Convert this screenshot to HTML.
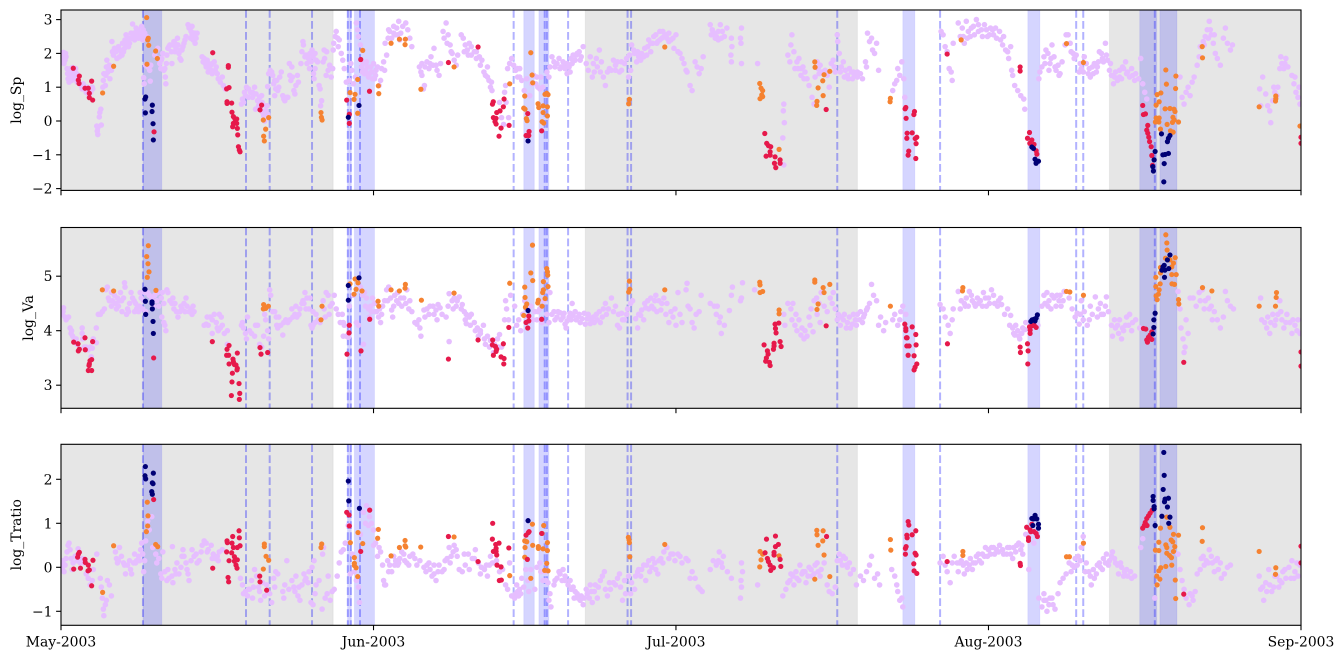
<!DOCTYPE html>
<html lang="en"><head><meta charset="utf-8"><title>Solar wind time series</title>
<style>html,body{margin:0;padding:0;background:#fff}svg{display:block}text{font-family:"DejaVu Serif","Liberation Serif",serif;font-size:13.9px;fill:#000}</style></head>
<body>
<svg id="chart" width="1344" height="659" viewBox="0 0 1344 659" xmlns="http://www.w3.org/2000/svg"></svg>
<script>
const monthTicks=[[0,"May-2003"],[31,"Jun-2003"],[61,"Jul-2003"],[92,"Aug-2003"],[123,"Sep-2003"]];
const grayRegions=[[0,27],[52,79],[104,123]];
const blueRegions=[[8.13,10],[28.42,28.8],[29.1,31.1],[45.9,46.95],[47.4,48.4],[83.5,84.7],[95.9,97.1],[107,108.7],[109,110.7]];
const eventDays=[8.13,18.35,20.7,24.9,28.45,28.75,29.66,44.9,47.98,48.2,50.3,56.2,56.55,77,87.2,100.7,101.4,108.5];

const spTicks=[-2,-1,0,1,2,3];
const vaTicks=[3,4,5];
const trTicks=[-1,0,1,2];

const spLavender=[[0,1.9],[0.1,1.75],[0.1,2],[0.2,1.85],[0.25,2.03],[0.3,1.7],[0.35,1.9],[0.4,1.8],[0.45,2],[0.5,1.9],[0.6,1.55],[0.65,1.4],[0.7,1.25],[0.75,1.5],[0.8,1.15],[0.9,1.35],[0.95,1.55],[1,1.45],[1.05,1.2],[1.15,1.58],[1.2,1.3],[1.3,1.45],[1.4,1.25],[1.45,1.55],[1.55,1.4],[1.6,1.15],[1.7,1.35],[1.9,1.1],[2,1.05],[2.1,0.95],[2.2,1.1],[2.35,1],[2.5,0.85],[2.6,1],[2.75,0.95],[2.8,0.75],[2.95,0.85],[3.1,1],[3.15,0.95],[3.55,-0.15],[3.6,-0.3],[3.65,-0.4],[3.65,-0.2],[3.8,0.12],[3.85,0.25],[3.95,0.35],[4,-0.12],[4.15,1],[4.2,1.2],[4.25,1.4],[4.4,1.05],[4.45,1.35],[4.5,1.6],[4.55,1.8],[4.65,1.45],[4.7,1.55],[4.8,1.65],[4.85,1.25],[5,1.5],[5.05,2.35],[5.1,2.05],[5.2,1.95],[5.3,2.15],[5.45,2.05],[5.55,1.85],[5.7,2.2],[5.8,1.9],[5.9,2.1],[6,2],[6.1,2.3],[6.2,2.05],[6.3,2.15],[6.35,2.4],[6.45,2.55],[6.55,2.25],[6.6,2.35],[6.7,2.2],[6.8,2.3],[6.95,2.6],[7,2.45],[7.1,2.87],[7.2,2.6],[7.35,2.55],[7.5,2.65],[7.6,2.7],[7.7,2.45],[7.85,2.6],[7.9,2.5],[8,2.8],[8.05,2.55],[8.15,2.7],[8.25,2.45],[8.3,2.6],[8.4,2.45],[8.5,2.5],[8.2,1.28],[8.25,1.1],[8.4,1.65],[8.6,1.6],[8.8,1.5],[8.85,1.18],[8.9,1.65],[9.3,1.95],[9.5,2.1],[9.6,2.15],[9.7,1.85],[9.8,1.7],[9.9,1.55],[9.95,1.8],[10,1.85],[10.1,2],[10.2,1.5],[10.3,1.55],[10.35,1.3],[10.4,1.1],[10.45,1.7],[10.5,1.95],[10.6,2.15],[10.7,2.2],[10.8,2.25],[10.95,2.05],[11,1.7],[11.1,2.25],[11.2,2.35],[11.3,2.05],[11.4,2.15],[11.55,2.45],[11.6,2.25],[11.7,2],[11.8,1.85],[11.9,1.8],[12,2.1],[12.1,2.2],[12.3,2.4],[12.4,2.5],[12.6,2.85],[12.7,2.75],[12.85,2.45],[12.9,2.65],[13,2.55],[13.1,2.4],[13.2,2.6],[13.3,2.3],[13.4,2.45],[13.5,2.6],[14,1.9],[14.1,1.75],[14.2,1.85],[14.3,1.7],[14.4,1.6],[14.5,1.8],[14.6,1.45],[14.7,1.55],[14.85,1.65],[14.9,1.5],[15,1.4],[15.2,1.75],[15.4,1.6],[15.5,1.4],[15.6,1.25],[15.8,1.15],[16,1.3],[16.1,1.05],[16.3,0.95],[17.9,0.5],[18,0.65],[18.1,0.55],[18.2,0.85],[18.3,0.75],[18.4,1],[18.6,0.7],[18.8,0.85],[19,0.7],[19.2,1],[19.35,0.8],[19.3,0.35],[19.5,0.6],[19.6,0.45],[19.7,0.7],[19.8,0.35],[19.95,0.55],[20,0.25],[20.1,0.15],[20.2,0],[20.3,0.3],[20.35,0.45],[20.45,0.45],[20.5,0.2],[20.5,1.02],[20.6,1.4],[20.75,1.5],[20.9,1.45],[21,1.35],[21.1,1.1],[21.2,1.2],[21.3,0.95],[21.4,1.2],[21.5,0.9],[21.6,1],[21.7,1.3],[21.85,1.45],[22,0.75],[22.1,0.65],[22.2,0.6],[22.4,0.7],[22.5,0.7],[22.65,1.7],[22.7,1.35],[22.8,1.2],[22.95,1.3],[23.1,0.9],[23.2,0.8],[23.3,1.05],[23.45,1.35],[23.55,1.15],[23.8,1.7],[23.9,2.05],[24,2.35],[24.05,2.25],[24.2,1.9],[24.4,1.7],[24.55,1.85],[24.65,1.55],[24.8,1.75],[24.9,2.1],[25,1.9],[25.05,1.4],[25.1,1.25],[25.2,1.55],[25.3,1.8],[25.45,1.75],[25.6,1.05],[25.7,0.95],[25.75,0.45],[25.85,0.6],[26,1.75],[26.15,1.85],[26.3,1.35],[26.35,2.05],[26.5,1.5],[26.65,1.65],[26.8,1.3],[26.95,1.55],[27,2.1],[27.05,2.3],[27.2,2.5],[27.3,2.65],[27.45,2.45],[27.6,2.4],[27.8,2],[27.95,1.8],[28.1,1.55],[28.3,1.15],[28.6,1.2],[28.75,1.7],[28.85,1.5],[29,1.1],[29.2,1.3],[29.3,2.9],[29.4,2.7],[29.5,2.5],[29.7,2.25],[29.8,1.6],[30,1.7],[30.2,1.5],[30.4,1.6],[30.6,1.4],[30.8,1.45],[31,1.7],[31.1,1.25],[31.25,1.5],[31.4,1.6],[31.55,1.05],[31.7,1.2],[31.8,1.55],[32,1.75],[32.1,1.5],[32.15,2.3],[32.3,1.95],[32.45,2.45],[32.6,2.65],[32.8,2.45],[33,2.8],[33.15,2.55],[33.3,2.75],[33.5,2.95],[33.7,2.6],[33.9,2.8],[34.2,2.9],[34.4,2.7],[34.6,2.45],[34.8,2.2],[35.55,1.6],[35.7,1.45],[35.8,1.35],[35.95,0.95],[36.05,1.05],[36.3,1.75],[36.5,1.55],[36.7,1.9],[36.9,1.65],[37,2.15],[37.3,1.5],[37.5,1.35],[37.65,1.7],[37.9,2.65],[38,2.45],[38.2,2.9],[38.4,2.55],[38.6,2.25],[38.8,2],[39,1.8],[39.2,1.65],[39.35,1.95],[39.7,2.55],[39.9,2.45],[40.1,2.25],[40.3,2.1],[40.5,2.3],[40.7,1.95],[41,2.05],[41.2,1.85],[41.5,1.9],[41.75,1.8],[41.95,1.45],[42.1,1.35],[42.3,1.6],[42.45,1.2],[42.6,1],[42.75,0.9],[43.5,0.55],[43.7,0.1],[43.9,-0.1],[44,0.85],[44.15,0.55],[44.4,0.1],[44.1,1.05],[44.3,1.55],[44.5,1.7],[44.7,1.85],[44.9,1.65],[45.1,1.5],[45.3,1.55],[45.5,1.3],[45.7,1.2],[45.95,0.9],[46.2,1.25],[46.5,0.75],[46.9,1.35],[47.1,1.1],[47.3,1],[47.6,1.3],[47.8,1],[48.2,1.45],[48.4,1.3],[48.5,1.6],[48.7,1.9],[48.9,1.75],[49.2,1.7],[49.4,1.85],[49.6,1.6],[49.8,1.75],[50,1.55],[50.2,1.4],[50.4,1.6],[50.6,1.85],[50.8,1.95],[51,1.8],[51.2,2],[51.4,2.05],[51.6,1.9],[51.8,2.2],[52.1,1.7],[52.3,1.5],[52.5,1.9],[52.7,1.3],[52.9,1.45],[53.2,1.6],[53.4,2.1],[53.6,1.75],[53.8,1.3],[54,1.05],[54.2,1.45],[54.4,1.55],[54.8,1.8],[55,1.65],[55.2,1.75],[55.4,1.45],[55.6,1.5],[55.9,1.7],[56.1,1.85],[56.3,1.3],[56.5,1.5],[56.6,2.25],[56.9,2],[57.1,1.75],[57.3,1.9],[57.6,2],[57.9,2.15],[58.1,1.95],[58.3,2.4],[58.5,2.05],[58.7,2.3],[59,2.55],[59.2,2.35],[59.4,2.65],[59.6,2.45],[59.8,2.5],[60.1,2.45],[60.3,2.6],[60.5,2.4],[60.8,2.15],[61,2.55],[61.2,2.05],[61.4,2],[61.6,1.85],[61.8,1.7],[62,1.5],[62.1,1.45],[62.4,1.05],[62.6,0.9],[62.9,1.75],[63.1,1.6],[63.3,1.4],[63.5,1.55],[63.7,1.9],[64.4,2.85],[64.6,2.7],[64.8,2.6],[65,2.5],[65.2,2.4],[65.4,2.85],[65.6,2.65],[65.8,2.5],[66.05,2.75],[66.5,2.45],[66.55,2.2],[66.45,1.95],[66.5,1.75],[67.5,2.75],[67.4,2.45],[67.45,2.3],[67.5,1.7],[69.1,1.7],[71.7,0.5],[71.65,0.3],[71.75,-0.05],[71.6,-0.5],[71.7,-1.3],[72.1,1.95],[72.3,1.75],[72.4,2.25],[72.5,2.55],[72.7,2.05],[73,1.75],[73.2,1.85],[73.4,1.55],[73.6,1.6],[73.8,1.45],[74,1.25],[74.2,1.05],[74.5,0.7],[74.7,0.5],[74.8,1.3],[75.1,1.55],[75.3,1.65],[75.5,1.45],[75.8,1.5],[76,1.35],[76.2,1],[76.4,1.7],[76.6,1.8],[76.8,1.45],[77,2.55],[77.05,2.35],[77.2,2],[77.4,1.6],[77.6,1.75],[77.8,1.5],[78,1.35],[78.2,1.55],[78.5,1.25],[78.7,1.35],[79,1.3],[79.3,1.4],[79.8,1.75],[79.9,1.6],[80,2.6],[80.2,2.35],[80.4,2.45],[80.5,2.1],[80.7,2],[80.9,2.3],[81.1,1.5],[82.5,0.9],[82.7,1.1],[82.9,1.2],[83,1.55],[83.2,1.35],[83.4,1.75],[83.6,1.25],[83.7,0.7],[87.3,2.65],[87.5,2.55],[87.7,2.2],[87.9,2.05],[88.1,1.55],[88.3,1.45],[88.4,1.2],[88.5,2.3],[89,2.9],[89.2,2.5],[89.4,2.75],[89.6,2.3],[89.8,2.95],[90,2.65],[90.2,2.5],[90.5,2.8],[90.8,3],[91,2.65],[91.3,2.7],[91.6,2.85],[91.9,2.5],[92.2,2.75],[92.5,2.55],[92.8,2.45],[93.1,2.65],[93.4,2.25],[93.7,2.1],[94,1.85],[94.2,2.2],[94.3,1.5],[94.4,1.35],[94.6,1.05],[94.9,0.9],[95.2,0.75],[95.5,0.65],[95.6,0.35],[97,1.25],[97.1,1.45],[97.3,1.6],[97.5,1.9],[97.7,2.1],[97.9,2],[98.1,1.7],[98.3,2.25],[98.5,1.9],[98.7,1.5],[98.9,1.65],[99.1,1.4],[99.3,1.75],[99.6,2.25],[99.7,2.55],[99.9,2.55],[100.1,2.3],[100.4,2],[100.7,1.95],[101,1.45],[101.2,1.55],[101.5,1.9],[101.7,1.7],[101.9,1.4],[102.1,1.3],[102.3,1.6],[102.5,1.7],[102.7,1.45],[102.9,1.75],[103,2.05],[103.2,2],[103.4,1.75],[103.6,2.3],[103.8,1.8],[104,1.5],[104.2,1.35],[104.4,1.1],[104.6,1.45],[104.8,1.2],[105,1.3],[105.2,1.25],[105.4,1.55],[105.6,1.75],[105.8,1.45],[106,1.3],[106.3,1.35],[106.6,1.4],[106.9,1.25],[107.1,1.85],[107.3,1.1],[107.5,0.85],[107.7,0.65],[111,1.3],[111.2,0.7],[111.4,0.5],[111.6,0.85],[111.8,1],[112,0.75],[112.2,1.15],[112.4,1.3],[112.7,1.65],[112.9,1.9],[113,2.2],[113.3,2.35],[113.5,2.5],[113.7,2.7],[113.9,2.95],[114.1,2.55],[114.3,2.3],[114.5,2],[114.7,1.85],[115,1.65],[115.3,2.45],[115.5,2.75],[115.7,2.3],[116,2.1],[116.2,2.25],[118.9,0.95],[119,0.45],[119.2,1.3],[119.5,0.8],[119.7,0.45],[119.9,0.3],[120,-0.05],[120.2,0.6],[120.4,0.85],[120.7,1],[120.9,1.55],[121.1,1.7],[121.3,1.55],[121.5,1.85],[121.7,1.6],[122.1,1.35],[122.3,1.1],[122.5,0.85],[122.7,0.7],[122.9,0.5]];
const spLavenderDense=[[5.6,2.1],[6.05,1.95],[6.4,2.3],[6.7,2.45],[7.3,2.4],[7.45,2.75],[7.75,2.6],[8.1,2.4],[11.3,2.3],[11.85,2.1],[12.2,2.3],[13,2.8],[13.3,2.6],[14.6,1.7],[15,1.7],[15.3,1.5],[18.6,0.95],[19,0.85],[19.9,0.75],[21.2,0.75],[22.9,1.6],[24.3,1.95],[24.7,2],[25.2,2],[26.1,2.1],[27.5,2.2],[29.9,1.45],[30.1,1.4],[30.3,1.75],[30.5,1.3],[30.7,1.6],[30.9,1.25],[31.2,1.35],[32.5,2.7],[33,2.6],[33.4,2.55],[33.6,2.4],[35.8,1.7],[36.1,1.6],[36.6,1.7],[37.2,1.65],[38.3,2.3],[38.7,2.05],[40,2.05],[40.4,1.95],[40.7,2.2],[41.2,2.05],[41.6,1.65],[42.3,1.3],[42.7,1.15],[45.3,1.3],[45.5,1.55],[46.7,1.1],[47.2,1.3],[47.5,0.95],[49,1.6],[49.5,1.55],[49.9,1.6],[50.2,1.7],[50.5,1.45],[50.7,1.7],[51.1,1.95],[51.5,1.8],[52.8,1.7],[53.1,1.85],[53.5,1.45],[54.6,1.5],[55,1.5],[55.6,1.75],[56.4,1.95],[56.8,2.1],[57.2,2.05],[57.5,1.8],[57.8,1.9],[58.2,2.2],[58.5,2.3],[58.8,2.5],[59.1,2.3],[59.4,2.4],[59.7,2.65],[60,2.55],[60.3,2.35],[60.7,2.45],[64.5,2.55],[64.9,2.45],[65.2,2.65],[65.5,2.45],[72.8,1.55],[73.1,1.55],[73.4,1.35],[73.7,1.25],[75,1.75],[75.2,1.4],[76.7,1.6],[77.3,1.45],[77.7,1.3],[78.1,1.25],[78.4,1.45],[78.6,1.45],[79,1.45],[79.5,1.25],[89.5,2.5],[89.9,2.45],[90.3,2.75],[90.6,2.55],[91,2.85],[91.4,2.5],[91.8,2.7],[92.1,2.55],[92.4,2.7],[92.7,2.75],[93.2,2.4],[93.5,2.5],[93.9,2.05],[97.6,1.7],[98,1.5],[98.2,1.85],[98.6,1.6],[99,1.35],[100.2,2.05],[100.5,1.85],[101.1,1.7],[101.4,1.45],[102,1.55],[102.4,1.4],[102.8,1.6],[103.3,1.85],[103.7,1.95],[104.1,1.7],[104.5,1.3],[105,1.5],[105.3,1.6],[105.7,1.4],[106.2,1.55],[106.5,1.2],[113.4,2.25],[113.8,2.45],[114,2.7],[114.4,2.55],[120.3,1],[120.6,0.75],[121,1.9],[121.4,1.7],[122.4,1.3],[122.8,1]];
const spOrange=[[8.5,3.06],[8.66,2.45],[8.6,2.4],[8.7,2.24],[8.53,1.68],[9.39,2.07],[9.56,1.85],[4.13,0.83],[5.22,1.62],[20.07,0.03],[20.6,0.1],[20.3,-0.24],[20.1,-0.45],[20.17,-0.59],[25.79,0.25],[25.83,0.11],[25.9,0.03],[28.67,0.84],[29.17,0.79],[29.07,0.64],[29.43,1.23],[29.93,2.09],[29.43,0.23],[31.48,1.04],[31.52,0.81],[32.74,2.3],[33.57,2.42],[34.16,2.42],[34.13,2.26],[35.7,0.94],[38.99,1.6],[46.6,2.02],[46.73,1.36],[46.79,1.13],[44.51,1.1],[46,0.74],[45.9,0.38],[46.03,0.35],[46.16,0.07],[46.23,0.01],[47.32,0.51],[47.39,0.4],[47.82,0.45],[48.25,0.42],[47.82,0.25],[48.25,0.15],[47.72,-0.02],[47.88,-0.06],[48.01,0.79],[48.18,0.82],[48.31,0.78],[56.38,0.64],[56.31,0.51],[59.89,2.19],[69.31,1.11],[69.44,0.97],[69.6,0.9],[69.51,0.77],[69.6,0.72],[69.34,0.66],[71.23,-0.84],[74.77,1.75],[74.8,1.59],[76.26,1.47],[75.69,1.37],[75.56,1.19],[75.1,0.98],[75.6,0.75],[74.99,0.58],[74.96,0.46],[82.27,0.67],[82.24,0.57],[89.29,2.4],[99.74,2.29],[101.42,1.73],[109.59,1.51],[110.59,1.33],[109.65,1.09],[110.56,0.96],[109.1,0.83],[108.73,0.78],[108.93,0.57],[108.63,0.47],[109.52,0.36],[110,0.37],[110.4,0.35],[110.5,0.28],[108.63,0.09],[108.93,0.09],[108.56,-0.03],[108.9,-0.03],[110.3,0.11],[110.42,0.03],[110.25,-0.04],[110.85,-0.03],[109.72,-0.1],[109.06,-0.24],[110.05,-0.29],[110.32,-0.33],[113.2,2.2],[113.23,1.87],[118.85,0.42],[120.5,0.74],[120.5,0.66],[120.47,0.59],[122.9,-0.15]];
const spRed=[[1.22,1.56],[1.82,1.33],[1.72,1.21],[1.79,1.11],[2.38,0.97],[2.71,0.97],[2.81,0.82],[2.81,0.69],[3.04,1.18],[3.14,0.62],[9.23,-0.32],[15.05,2.02],[16.6,1.64],[16.6,1.59],[16.43,0.95],[16.67,0.99],[16.47,0.57],[16.47,0.52],[16.93,0.53],[16.96,0.26],[17.1,0.13],[17.26,0.06],[17.43,0.06],[17.1,-0.07],[17.43,-0.07],[17.03,-0.17],[17.49,-0.22],[17.53,-0.41],[17.6,-0.76],[17.69,-0.86],[17.76,-0.91],[19.74,0.33],[19.9,0.47],[28.34,0.62],[28.6,0.2],[28.6,-0.07],[29.73,1.82],[30.6,0.88],[38.43,1.73],[41.37,2.19],[42.88,0.57],[42.8,0.5],[43.88,0.42],[43.95,0.65],[43.55,0.3],[43.22,0.25],[42.89,0.1],[43.15,0.08],[43.05,-0.02],[43.16,-0.09],[43.65,-0.21],[44.45,-0.13],[43.45,-0.45],[46.3,0.22],[46.43,-0.31],[46.13,-0.43],[46.4,-0.43],[47.68,-0.29],[69.81,-0.37],[70,-0.66],[70.17,-0.73],[69.94,-1.04],[70.34,-0.91],[70.4,-0.76],[70.83,-1.06],[70.77,-1.25],[70.9,-1.38],[71.33,-1.15],[71.33,-1.25],[70.34,-1.01],[75.9,0.34],[83.8,0.4],[83.73,0.36],[84.66,0.28],[84.6,0.19],[83.83,0.08],[83.93,-0.36],[84.43,-0.35],[83.9,-0.51],[84.73,-0.52],[84.89,-0.48],[84.82,-0.67],[84.09,-0.89],[84.03,-1.01],[84.79,-1.11],[87.9,1.98],[95.14,1.6],[95.14,1.48],[96.07,-0.34],[95.87,-0.51],[96.3,-0.56],[96.1,-0.66],[96.52,-0.69],[96.73,-0.88],[96.8,-0.98],[107.37,0.19],[107.57,0.21],[107.3,0.46],[107.8,-0.13],[107.7,-0.27],[107.8,-0.36],[107.9,-0.48],[107.98,-0.61],[108.14,-0.76],[108.2,-1.02],[108.27,-1.31],[123,-0.48],[123,-0.66]];
const spNavy=[[8.4,0.71],[8.33,0.65],[8.37,0.24],[9.06,0.47],[9.03,0.28],[9.13,-0.08],[9.16,-0.56],[28.5,0.11],[29.56,0.46],[46.33,-0.59],[96.3,-0.77],[96.46,-0.81],[96.62,-1.13],[96.72,-1.25],[96.96,-1.19],[109.16,-0.38],[110,-0.43],[109.85,-0.51],[109.75,-0.61],[108.53,-0.9],[108.43,-1.15],[108.3,-1.35],[108.36,-1.48],[109.3,-1],[109.52,-0.99],[109.85,-0.96],[109.43,-1.26],[109.39,-1.8]];

const vaLavender=[[0,4.4],[0.1,4.3],[0.2,4.35],[0.25,4.42],[0.4,4.25],[0.5,4.2],[0.6,4.23],[0.75,4.25],[0.9,4.05],[1,3.95],[1.05,4],[1.15,3.9],[1.3,3.85],[1.5,3.85],[1.6,3.75],[2.1,4.05],[2.1,3.95],[2.15,3.85],[2.3,3.7],[2.5,3.7],[2.7,3.65],[2.9,3.7],[3,3.52],[3.1,3.68],[3.2,3.85],[3.5,4.05],[3.5,3.78],[3.7,4.3],[3.9,4.3],[4.1,4.35],[4.3,4.4],[4.45,4.75],[4.6,4.8],[4.7,4.6],[4.8,4.55],[5,4.7],[5,4.45],[5.1,4.55],[5.3,4.65],[5.4,4.5],[5.6,4.6],[5.7,4.45],[5.8,4.55],[6,4.55],[6.05,4.35],[6.2,4.6],[6.3,4.88],[6.35,4.8],[6.5,4.3],[6.6,4.4],[6.8,4.5],[6.95,4.7],[7.1,4.6],[7.25,4.55],[7.4,4.5],[7.5,4.4],[7.6,4.45],[7.7,4.35],[7.85,4.7],[7.95,4.6],[8.1,4.4],[8.3,4.7],[8.4,4.35],[8.6,4.7],[8.75,4.65],[9,4.6],[9.3,4.65],[9.5,4.55],[9.6,4.7],[9.7,4.45],[9.95,4.6],[10,4.25],[10.2,4.15],[10.3,4.1],[10.4,4],[10.05,4.7],[10.5,4.75],[10.6,4.7],[10.8,4.55],[11,4.5],[11.2,4.4],[11.3,4.5],[11.45,4.35],[11.6,4.25],[11.8,4.35],[12,4.4],[12.2,4.5],[12.4,4.6],[12.5,4.45],[12.7,4.35],[12.9,4.4],[13,4.3],[13.2,4.35],[14.2,4.1],[14.4,4.12],[14.6,4.1],[14.8,4.25],[15,4.2],[15,3.95],[15.2,4.3],[15.5,4.05],[15.6,4],[15.7,4.3],[15.9,4.25],[16,4.1],[16.2,3.95],[16.5,4],[16.5,3.75],[17.9,4.1],[18,4.15],[18.1,4.05],[18.3,3.95],[18.4,3.85],[18.5,4.25],[18.7,4],[18.9,3.95],[19.2,3.9],[19.3,4.1],[19.5,4.1],[19.7,3.75],[19.9,3.7],[20.1,3.9],[20.2,4.3],[20.3,4.2],[20.5,4],[20.6,3.85],[20.7,4.75],[20.8,4.65],[21,4.35],[21.2,4.35],[21.35,4.25],[21.4,4.1],[21.5,4.05],[21.8,4.1],[22,3.92],[22.3,4.2],[22.5,4.15],[22.7,4.2],[23,4.25],[23.2,4.3],[23.4,4.25],[23.6,4.3],[23.7,4.4],[23.9,4.5],[24,4.55],[24.1,4.5],[24.2,4.7],[24.4,4.6],[24.6,4.4],[24.7,4.6],[24.8,4.1],[24.9,4.05],[25,4.1],[25,4.35],[25.3,4.3],[25.5,4.2],[25.7,4.15],[26,4.55],[26.1,4.4],[26.3,4.7],[26.5,4.65],[26.7,4.45],[26.9,4.5],[27.1,4.65],[27.3,4.4],[27.5,4.3],[27.7,4.15],[28,4.15],[28,3.9],[28.1,4.1],[28.3,3.9],[28.5,3.88],[28.6,4.45],[29,4.65],[29.3,4.15],[29.5,4.1],[29.7,4.8],[29.9,4.65],[30,3.75],[30.1,4.7],[30.3,4.6],[30.5,4.4],[30.7,4.45],[30.9,4.6],[31.1,4.5],[31.3,4.35],[31.5,4.25],[31.7,4.15],[31.9,4.45],[32.1,4.55],[32.3,4.75],[32.5,4.8],[32.7,4.6],[32.8,4.38],[32.9,4.25],[33.1,4.65],[33.3,4.55],[33.5,4.5],[33.8,4.45],[34,4.6],[34.3,4.75],[34.5,4.4],[34.8,4.35],[35.1,4.15],[35.3,4.12],[35.5,4.2],[35.6,4.05],[35.7,3.9],[36,4.38],[36.3,4.4],[36.6,4.45],[37,4.3],[37.2,4.38],[37.4,4.48],[37.6,4.42],[37.8,4.3],[38.2,4.25],[38.5,4.68],[38.5,3.8],[38.8,4.55],[39,4.6],[39.2,4.45],[39.5,4.62],[39.8,4.48],[40,4.35],[40.2,4.3],[40.2,4.13],[40.5,4.25],[40.7,4.3],[41,4.15],[41.3,4.05],[41.6,4],[41.9,4.1],[41.6,3.95],[42,3.85],[42.3,3.9],[42.6,3.82],[43,3.75],[43.3,3.85],[43.5,3.93],[43.7,3.7],[44,4.2],[44.1,4.55],[44.2,4.4],[44.4,4.2],[44.6,4.65],[45,4.45],[45.2,4.1],[45.4,4.2],[45.6,4],[45.8,4.3],[46,4.55],[46.3,4.25],[46.6,4.45],[47,4.35],[47.2,4.2],[47.5,4.4],[47.7,4.15],[47.9,4.55],[48.2,4.3],[48.4,4.15],[48.5,4.7],[48.9,4.35],[49.2,4.25],[49.5,4.33],[49.8,4.25],[50,4.12],[50.1,4.05],[50.4,4.25],[50.6,4.2],[50.7,4.5],[51,4.35],[51.3,4.25],[51.5,4.15],[51.9,4.32],[52.2,4.22],[52.5,4.13],[52.8,4.25],[53.2,4.2],[53.4,4.35],[53.7,4.25],[54,4.5],[54.3,4.4],[54.6,4.6],[55,4.45],[55.2,4.1],[55.4,4.05],[55.6,4.32],[55.9,4.2],[56.1,4.3],[56.5,4.5],[56.7,4.55],[57,4.22],[57.2,4.05],[57.5,4.28],[57.8,4.2],[58,4.42],[58.2,4.55],[58.5,4.6],[58.8,4.4],[59,4.65],[59.3,4.55],[59.6,4.5],[60,4.3],[60.3,4.15],[60.7,4.25],[61,4.1],[61.2,4.7],[61.4,4.3],[61.6,4.15],[62,4.75],[62.1,4.87],[62.2,4.45],[62.4,4.4],[62.6,4.15],[62.8,4.05],[63,4.3],[63.3,4.35],[63.5,4.65],[64.4,4.5],[64.8,4.45],[65,4.3],[65.3,4.15],[65.5,3.95],[65.8,4.1],[66.3,4.37],[66.5,4.65],[66.6,4.8],[67.4,4.55],[67.5,4.6],[67.6,4.88],[68.8,4.75],[71.7,4.3],[71.8,4.1],[72.1,4.5],[72.4,4.4],[72.6,4.5],[72.9,4.3],[73.2,4.2],[73.5,4.05],[73.8,4],[74,3.9],[74.2,4.25],[74.4,4.4],[74.7,4.55],[74.95,4.6],[75.2,4.5],[75.4,4.7],[75.7,4.45],[76,4.35],[76.3,4.6],[76.6,4.7],[76.8,4.4],[77,4.2],[77.3,4.1],[77.6,4.2],[77.9,4.05],[78.2,4.25],[78.5,4.12],[78.8,4.2],[79,4.3],[79.3,4.35],[79.6,4.25],[79.9,4.38],[80.2,4.5],[80.4,4.85],[80.6,4.65],[80.9,4.55],[81.1,4.1],[81.3,4.25],[81.6,4],[81.8,4.15],[82.7,4.3],[83,4.1],[83.2,4.2],[83.5,4.45],[83.8,4.3],[87.2,4.48],[87.5,4.4],[87.7,4.25],[88,4.1],[88.2,3.95],[88.4,4.2],[88.5,4.4],[89,4.72],[89.3,4.55],[89.6,4.5],[89.8,4.6],[90.1,4.72],[90.4,4.55],[90.6,4.5],[90.9,4.6],[91.2,4.55],[91.5,4.7],[91.8,4.45],[92,4.6],[92.3,4.75],[92.6,4.5],[93,4.55],[93.3,4.48],[93.6,4.3],[93.9,4.4],[94.2,4.28],[94.4,4.05],[94.6,3.92],[94.9,4],[95.1,3.85],[95.3,3.95],[95.6,4.02],[95.7,4.15],[96.2,4.05],[96.9,4.1],[97.3,4.45],[97.5,4.65],[97.8,4.7],[98,4.55],[98.2,4.4],[98.5,4.6],[98.8,4.65],[99,4.55],[99.2,4.45],[99.5,4.72],[100,4.6],[100.3,4.4],[100.8,4.32],[101,4.12],[101.2,4.55],[101.5,4.35],[101.8,4.1],[102,4.2],[102.3,4.3],[102.6,4.62],[102.9,4.4],[103.1,4.5],[103.4,4.3],[103.7,4.62],[103.9,4.35],[104.2,4.1],[104.3,3.9],[104.6,4.05],[104.9,3.95],[105.2,3.85],[105.4,4],[105.7,4.25],[106,4.3],[106.3,4.15],[106.6,4.2],[107,4.05],[110.8,4.72],[111,4.4],[111.1,4.05],[111.3,3.85],[111.4,3.6],[111.5,3.7],[111.6,4.2],[111.8,3.95],[112,4.6],[112.3,4.6],[112.6,4.45],[112.9,4.7],[113.2,4.75],[113.5,4.55],[113.8,4.6],[114.1,4.45],[114.4,4.35],[114.7,4.2],[115,4.05],[115.3,4.25],[115.5,4.72],[115.7,4.55],[116,4.45],[116.3,4.4],[119,4.6],[119.1,4.2],[119.4,4.15],[119.6,4.05],[119.9,3.95],[120.2,4.3],[120.4,4.1],[120.7,4.3],[120.9,4.55],[121.1,4.2],[121.3,4.05],[121.6,4.3],[121.9,4.15],[122.1,3.95],[122.4,4.1],[122.7,4.2],[122.9,3.95]];
const vaLavenderDense=[[5.5,4.4],[5.9,4.7],[6.7,4.35],[7.3,4.35],[7.8,4.45],[8.2,4.55],[9.2,4.45],[10.2,4.5],[11.1,4.6],[11.9,4.45],[12.3,4.35],[13.1,4.45],[14.5,4.25],[15.4,4.15],[15.8,4.05],[21.6,4.25],[22.1,4.15],[22.9,4.4],[23.3,4.45],[24.3,4.4],[25.2,4.15],[26.2,4.25],[26.6,4.3],[27.9,4.3],[30.2,4.45],[30.6,4.25],[30.8,4.35],[31.2,4.35],[31.6,4.4],[31.8,4.3],[32.4,4.55],[33,4.45],[33.4,4.7],[33.7,4.6],[34.2,4.5],[34.6,4.55],[36.1,4.25],[36.5,4.3],[36.9,4.45],[37.3,4.2],[38.4,4.45],[38.9,4.4],[39.3,4.55],[39.7,4.4],[40.1,4.2],[40.6,4.1],[41.1,4],[41.4,3.9],[42.1,3.75],[42.5,3.7],[42.9,3.6],[43.4,3.7],[46.2,4.4],[46.8,4.2],[47.3,4.35],[48.7,4.3],[49,4.2],[49.3,4.35],[49.6,4.2],[49.9,4.32],[50.2,4.18],[50.5,4.32],[50.8,4.28],[51.1,4.2],[51.4,4.3],[51.7,4.22],[52,4.12],[52.3,4.3],[52.6,4.22],[52.9,4.15],[53.1,4.3],[53.5,4.15],[53.8,4.4],[54.1,4.3],[54.8,4.35],[55.3,4.3],[55.7,4.2],[56.2,4.4],[57.3,4.3],[57.6,4.38],[57.9,4.5],[58.3,4.4],[58.6,4.45],[58.9,4.55],[59.1,4.35],[59.5,4.38],[59.8,4.6],[60.1,4.5],[60.5,4.35],[60.9,4.4],[65.1,4.45],[65.4,4.25],[72.5,4.2],[72.8,4.1],[73,4],[73.4,3.92],[73.7,3.85],[74.3,4.1],[74.6,3.98],[75,4.3],[75.3,4.15],[76.5,4.5],[77.1,4.3],[77.4,4.25],[77.7,4.3],[78,4.15],[78.3,4.05],[78.6,4.3],[78.9,4.1],[79.2,4.2],[79.5,4.15],[79.7,4.3],[80,4.42],[82.5,4.2],[83.3,4.35],[89.2,4.4],[89.7,4.45],[90,4.45],[90.3,4.65],[90.7,4.45],[91,4.5],[91.4,4.45],[91.7,4.6],[92.1,4.5],[92.5,4.65],[92.9,4.45],[93.2,4.6],[94.1,4.1],[94.5,3.95],[94.7,4.1],[95,3.9],[95.4,4.05],[97.6,4.5],[97.9,4.45],[98.3,4.65],[98.7,4.45],[99.1,4.65],[99.4,4.55],[100.6,4.25],[101.1,4.3],[101.4,4.2],[102.1,4.45],[102.8,4.25],[103.2,4.3],[103.6,4.45],[104.5,4.2],[104.8,4.1],[105,4.2],[105.3,4.05],[105.6,4.1],[105.9,4.1],[106.2,4],[113,4.55],[113.4,4.4],[113.9,4.4],[114.2,4.2],[119.7,4.25],[120,4.15],[120.5,4.2],[121,4.35],[121.5,4.15],[122.2,4.2],[122.6,4]];
const vaOrange=[[8.66,5.56],[8.5,5.36],[8.63,5.23],[8.73,5.08],[8.56,4.98],[9.42,4.74],[4.1,4.75],[5.22,4.73],[20.1,4.48],[20.07,4.4],[20.3,4.41],[20.57,4.45],[25.89,4.45],[25.79,4.2],[28.67,4.86],[29.17,4.95],[29.46,4.88],[29.27,4.76],[29.07,4.67],[29.86,4.73],[31.45,4.54],[31.52,4.45],[32.74,4.75],[33.57,4.73],[34.16,4.85],[34.13,4.78],[35.75,4.56],[38.99,4.69],[44.51,4.87],[46.77,5.57],[46.6,5.06],[46.79,4.92],[46,4.8],[46.03,4.61],[46.2,4.49],[46.07,4.43],[45.9,4.28],[47.35,4.56],[47.29,4.51],[47.72,4.45],[47.85,4.9],[47.85,4.75],[47.78,4.7],[48.18,5.14],[48.25,5.08],[48.28,5.02],[48.31,4.81],[48.02,4.59],[56.38,4.91],[56.42,4.76],[56.31,4.71],[59.89,4.75],[69.31,4.89],[69.34,4.84],[69.6,4.72],[69.34,4.7],[71.23,4.38],[71.23,4.31],[74.77,4.93],[74.77,4.89],[75.6,4.79],[76.26,4.85],[75.69,4.7],[75.1,4.49],[74.99,4.39],[82.27,4.45],[89.46,4.79],[89.42,4.73],[99.74,4.72],[100.07,4.71],[101.42,4.65],[109.59,5.76],[109.69,5.61],[109.72,5.48],[109.56,5.33],[110.52,5.34],[110,5.3],[110.35,5.24],[110.18,5.17],[109.06,5.16],[109.06,5.06],[110.62,5.03],[110.18,5.03],[108.6,4.98],[109.03,4.86],[110.2,4.86],[110.45,4.85],[108.6,4.81],[108.93,4.75],[108.86,4.67],[108.63,4.64],[108.73,4.57],[110.85,4.57],[110.88,4.49],[113.23,4.79],[120.57,4.7],[120.54,4.61],[120.47,4.45],[118.85,4.45],[114.16,4.73]];
const vaRed=[[1.26,3.79],[1.69,3.76],[1.72,3.63],[1.82,3.66],[2.38,3.87],[2.41,3.65],[3.14,3.8],[3.04,3.47],[2.88,3.45],[2.81,3.39],[2.78,3.36],[2.71,3.27],[3.04,3.27],[9.19,3.5],[15.01,3.8],[16.67,3.73],[16.47,3.66],[16.43,3.55],[16.63,3.55],[17.49,3.59],[17.06,3.48],[16.67,3.39],[17.1,3.43],[17.2,3.38],[17.36,3.37],[17.49,3.31],[17.46,3.28],[17,3.22],[16.96,3.06],[17.66,3.03],[16.9,2.81],[17.73,2.85],[17.69,2.74],[19.74,3.69],[19.84,3.57],[20.5,3.6],[28.37,3.57],[28.6,4.1],[28.57,3.96],[29.76,3.63],[30.62,4.21],[38.43,3.48],[41.37,3.83],[44.42,4.06],[42.82,3.83],[42.79,3.74],[43.09,3.71],[43.22,3.66],[43.16,3.62],[43.88,3.76],[42.89,3.55],[43.65,3.52],[43.95,3.49],[43.92,3.39],[46.4,4.27],[46.4,4.18],[46.13,4.15],[46.3,4.05],[47.68,4.21],[71.2,4.14],[70.83,4.12],[70.87,4.04],[70.93,3.96],[70.73,3.77],[70.73,3.72],[70.67,3.66],[71.33,3.8],[71.43,3.71],[70.07,3.63],[70.14,3.57],[69.97,3.5],[69.9,3.44],[70.27,3.42],[70.34,3.36],[75.9,4.09],[69.74,3.74],[83.7,4.12],[83.8,4.04],[83.8,4],[84.43,4.07],[84.79,3.93],[83.86,3.87],[83.93,3.87],[84.82,3.74],[83.9,3.72],[84.13,3.72],[84.03,3.55],[84.62,3.54],[84.89,3.39],[84.72,3.33],[84.62,3.28],[87.93,3.76],[95.14,3.7],[95.87,3.76],[95.93,3.63],[95.17,3.6],[95.9,3.39],[96.07,4.07],[96.13,4.01],[96.3,4.09],[96.53,4.1],[96.73,4.06],[96.13,3.95],[107.37,4.04],[107.6,4.03],[108.2,3.98],[108.03,3.92],[107.87,3.88],[107.7,3.83],[107.77,3.79],[108.2,3.84],[111.37,3.42],[123,3.61],[123,3.35]];
const vaNavy=[[8.33,4.76],[8.37,4.54],[9.03,4.53],[9.03,4.5],[9.06,4.4],[8.4,4.3],[9.13,4.17],[9.16,3.95],[28.5,4.83],[28.5,4.56],[29.56,4.97],[46.33,4.37],[96.2,4.17],[96.33,4.2],[96.53,4.21],[96.73,4.23],[96.85,4.29],[96.62,4.18],[108.33,3.94],[108.4,4.06],[108.4,4.2],[108.53,4.32],[110,5.39],[109.75,5.3],[109.43,5.2],[109.3,5.17],[109.2,5.11],[109.5,5.11],[109.88,5.14],[109.46,4.98]];

const trLavender=[[0,0.05],[0.1,0.15],[0.15,-0.05],[0.2,0.1],[0.3,-0.1],[0.4,0.05],[0.5,0.2],[0.6,0.35],[0.7,0.5],[0.8,0.55],[0.9,0.4],[1,0.2],[1.1,-0.05],[1.2,0.1],[1.4,0.25],[1.6,0.15],[1.7,0.42],[1.9,0.1],[2.1,0.2],[2.3,0.1],[2.5,-0.15],[2.7,-0.25],[2.9,-0.4],[3.1,-0.3],[3.2,-0.05],[3.55,0.3],[3.9,-0.25],[4,-0.45],[4.1,-0.7],[4.2,-0.95],[4.25,-1.1],[4.4,-0.85],[4.5,-0.75],[4.6,-0.3],[4.8,-0.4],[5,-0.65],[5.4,0.35],[5.5,0.2],[5.6,0.1],[5.8,0.45],[6,0.25],[6.2,0.1],[6.4,-0.15],[6.6,0.05],[6.8,0.15],[7,-0.15],[7.2,0.1],[7.3,0.3],[7.5,0.15],[7.7,0.25],[7.9,0.4],[8,0.55],[8.1,0.3],[8.2,-0.1],[8.3,0.15],[8.4,0.6],[8.6,1.05],[8.75,0.85],[9,1.15],[9.1,0.45],[9.4,0.3],[9.5,0.1],[9.7,0.2],[9.9,-0.15],[10,-0.25],[10.1,0.35],[10.3,-0.1],[10.5,-0.3],[10.7,-0.25],[11,-0.2],[11.1,-0.35],[11.05,0.47],[11.3,-0.05],[11.5,0.1],[11.7,-0.15],[11.9,0],[12.1,0.4],[12.2,0.25],[12.4,0.1],[12.6,-0.15],[12.7,-0.3],[12.9,0.15],[13,0.4],[13.2,0.25],[13.4,0.3],[13.7,0.15],[14,0.5],[14.2,0.6],[14.4,0.55],[14.6,0.4],[14.9,0.5],[15.1,0.3],[15.3,0.2],[15.5,0.25],[15.7,0.35],[16,0.4],[17.8,-0.25],[18,-0.4],[18.1,-0.6],[18.3,-0.55],[18.5,-0.65],[18.7,-0.5],[18.9,-0.3],[19,-0.7],[19.2,-0.05],[19.4,-0.2],[19.6,-0.45],[19.8,-0.75],[20,-0.35],[20.2,-0.65],[20.4,-0.4],[20.7,-0.6],[20.9,-0.8],[21.1,-0.25],[21.3,-0.1],[21.5,-0.15],[22,-0.55],[22.1,-0.7],[22.2,-0.4],[22.4,0.15],[22.6,-0.5],[22.9,-0.3],[23.1,-0.45],[23.3,-0.2],[23.5,-0.65],[23.7,-0.75],[23.9,-0.4],[24.1,-0.15],[24.3,-0.25],[24.6,-0.1],[24.8,-0.8],[24.9,0],[25,-0.85],[25.1,0.15],[25.3,-0.4],[25.6,-0.3],[25.9,-0.95],[25.95,0.3],[26.05,0.45],[26.2,-0.7],[26.5,-0.2],[26.7,-0.75],[26.9,-0.55],[27.1,-0.5],[27.4,-0.2],[27.6,0.1],[27.8,0.35],[28,0.4],[28.2,0.55],[28.5,0.95],[28.7,-0.15],[28.9,0.3],[29.1,-0.1],[29.3,-0.3],[29.5,-0.45],[29.6,-0.8],[29.7,0.75],[30,1.25],[30.3,1.4],[30.5,0.95],[30.8,1],[31,0.85],[31.2,0.55],[31.4,0.25],[31.55,0.45],[31.7,0.35],[31.9,0.05],[32,-0.3],[32.1,-0.4],[32.2,-0.4],[32.4,0.15],[32.6,0.05],[32.8,-0.1],[33,0.25],[33.2,0.15],[33.4,0.05],[33.6,0.2],[33.8,0.35],[34,0.3],[34.3,0.1],[34.6,0.25],[34.9,0.3],[35.3,0.05],[35.6,0.15],[36,0],[36.3,0.05],[36.6,-0.05],[36.8,-0.2],[37,-0.15],[37.2,-0.3],[37.5,0.05],[37.8,-0.1],[38,-0.05],[38.3,0.2],[38.5,0.45],[38.7,0.25],[38.9,0.35],[39.2,0.4],[39.5,-0.05],[39.8,-0.1],[40.1,0.05],[40.4,0.3],[40.8,0.2],[41.1,0.4],[41.4,0.1],[41.7,0],[42,-0.05],[42.3,-0.2],[42.6,0.25],[42.8,0.1],[43.2,0.15],[43.5,-0.1],[43.8,-0.05],[44.1,-0.4],[44.3,-0.5],[44.5,0.1],[44.7,-0.65],[45,-0.7],[45.3,-0.55],[45.5,-0.5],[45.7,-0.25],[45.9,-0.45],[46.1,-0.05],[46.3,-0.3],[46.6,-0.05],[47,-0.5],[47.2,0],[47.5,0.1],[47.8,-0.3],[48,-0.1],[48.3,-0.35],[48.4,-0.75],[48.5,-0.6],[48.6,-0.9],[48.9,-0.4],[49.2,-0.25],[49.5,-0.15],[49.8,-0.05],[50,-0.3],[50.3,-0.4],[50.6,-0.5],[50.9,-0.7],[51.2,-0.6],[51.5,-0.75],[51.8,-0.85],[52.2,-0.6],[52.5,-0.4],[52.7,-0.8],[52.9,-0.55],[53.2,-0.7],[53.5,-0.3],[53.7,-0.2],[53.9,-0.1],[54.2,-0.65],[54.5,-0.5],[54.8,-0.35],[55.2,-0.25],[55.5,-0.45],[55.7,-0.75],[56,-0.6],[56.3,-0.2],[56.6,-0.35],[56.9,-0.5],[57.2,-0.1],[57.5,-0.2],[57.8,0.05],[58,-0.3],[58.3,0.15],[58.6,0],[58.9,0.1],[59.2,-0.15],[59.5,0.2],[59.8,0.35],[60.1,0.45],[60.5,0.3],[60.9,0.15],[61.2,0.3],[61.6,0.1],[62,0.2],[62.2,0.15],[62.4,-0.25],[62.6,-0.1],[62.9,-0.25],[63.2,-0.45],[63.4,-0.5],[63.6,-0.55],[64.4,-0.05],[64.7,0.15],[65,0.05],[65.3,0.35],[65.5,0.1],[65.7,0.25],[66.1,-0.1],[66.5,-0.25],[67.4,-0.7],[67.5,-0.45],[67.45,-0.3],[67.6,-0.1],[67.5,0.1],[69.1,-0.4],[71.6,-0.65],[71.9,-0.5],[72.1,-0.35],[72.4,-0.15],[72.7,-0.4],[73,-0.25],[73.3,0.05],[73.6,-0.1],[73.9,-0.35],[74.2,0],[74.5,-0.2],[74.8,0.05],[75.1,-0.1],[75.4,-0.05],[75.7,0.1],[76,-0.4],[76.2,-0.55],[76.5,-0.6],[76.8,-0.45],[77,0.15],[77.2,0.3],[77.5,0.05],[77.8,0.2],[78,0],[78.3,-0.15],[78.6,-0.05],[78.9,-0.4],[79.3,-0.2],[79.6,-0.3],[79.9,-0.1],[80.2,0.05],[80.4,0.25],[80.7,-0.25],[81,-0.15],[81.2,-0.4],[82.4,-0.05],[82.7,-0.2],[82.9,-0.4],[83,-0.55],[83.2,-0.75],[83.4,-0.7],[83.5,-0.9],[87.2,0.1],[87.5,0.25],[87.7,0.05],[87.9,-0.1],[88.2,-0.35],[88.4,0.1],[88.6,0.25],[89,-0.1],[89.3,0.15],[89.6,-0.15],[89.9,-0.05],[90.2,0.2],[90.5,0.1],[90.8,0.25],[91.1,0.15],[91.4,0.3],[91.7,0.45],[92,0.4],[92.3,0.45],[92.6,0.3],[93,0.35],[93.4,0.4],[93.8,0.3],[94.1,0.45],[94.4,0.2],[94.7,0.35],[95,0.55],[95.3,0.5],[95.7,0.75],[96,-0.05],[96.5,0.55],[97,-0.7],[97.3,-0.9],[97.5,-0.75],[97.8,-1],[98,-0.85],[98.3,-0.7],[98.6,-0.95],[98.9,-0.6],[99.1,-0.35],[99.4,-0.25],[99.7,-0.15],[100,0.1],[100.3,0.05],[100.6,0.2],[100.9,0.25],[101.2,0.45],[101.4,0.7],[101.7,0.1],[101.95,-0.1],[102.2,-0.4],[102.5,-0.25],[102.8,0.05],[103.1,0],[103.4,0.2],[103.7,0.3],[104,0.15],[104.3,0.35],[104.6,0.1],[104.9,-0.15],[105.2,0],[105.5,-0.1],[105.8,-0.2],[106.2,-0.25],[106.5,-0.2],[107.1,0.45],[107.3,0.65],[108.5,-0.7],[110.8,0.3],[111,-0.05],[111.2,-0.3],[111.4,-0.5],[111.6,-0.7],[111.9,-0.85],[112.2,-0.65],[112.5,-0.55],[112.7,-0.15],[113,-0.05],[113.3,0.25],[113.6,0.15],[113.9,0.4],[114.2,0.1],[114.5,0.15],[114.8,-0.05],[115.1,-0.25],[115.4,-0.15],[115.7,0],[116,0.05],[118.85,-0.2],[119,-0.5],[119.3,-0.75],[119.5,-0.35],[119.8,-0.05],[120.1,-0.55],[120.3,-0.45],[120.6,-0.2],[120.9,-0.3],[121.2,-0.1],[121.5,-0.25],[121.8,0],[122.1,0.15],[122.4,-0.1],[122.7,-0.2],[122.9,0.05]];
const trLavenderDense=[[5.7,0.15],[6.3,0.05],[6.9,-0.05],[7.4,0.1],[7.8,0.15],[10.6,-0.05],[11.4,-0.15],[12,0.25],[12.5,-0.05],[13.5,0.1],[13.9,0.35],[14.5,0.35],[15,0.2],[15.6,0.15],[18.6,-0.5],[19.1,-0.45],[19.7,-0.55],[20.5,-0.55],[21.2,-0.45],[23.2,-0.55],[23.6,-0.45],[24.2,-0.3],[24.5,-0.35],[25.2,-0.6],[26.4,-0.6],[30.2,1],[30.6,1.15],[31,0.5],[32.5,-0.1],[33.1,0.05],[33.5,0.1],[34.1,0.15],[34.5,0.05],[35.1,0.2],[36.2,-0.1],[36.5,0.1],[37,0.05],[37.4,-0.1],[38.1,0.15],[38.6,0.1],[39,0.5],[39.3,0.25],[40,0.3],[40.5,-0.05],[41,0.2],[41.6,-0.15],[42.2,0.05],[42.5,0.05],[45.1,-0.6],[45.2,-0.4],[45.4,-0.65],[45.6,-0.6],[46.4,-0.55],[47.6,-0.1],[48.1,-0.3],[49,-0.3],[49.4,-0.1],[49.7,-0.3],[50,-0.2],[50.5,-0.3],[50.8,-0.45],[51,-0.55],[51.3,-0.7],[51.6,-0.65],[51.9,-0.7],[52.1,-0.5],[52.4,-0.7],[52.6,-0.55],[53,-0.4],[53.3,-0.45],[54,-0.5],[54.4,-0.35],[55,-0.4],[55.4,-0.15],[55.9,-0.3],[56.5,-0.6],[57,-0.2],[57.3,-0.05],[57.6,-0.05],[58.1,0.05],[58.4,-0.1],[58.7,0.2],[59,-0.05],[59.3,0.15],[59.7,0.1],[60.3,0.2],[60.7,0.3],[61.4,0.25],[65.2,0.15],[65.6,0],[72.3,-0.3],[72.6,-0.2],[72.9,-0.1],[73.2,-0.3],[73.5,-0.15],[73.8,-0.1],[74.1,-0.2],[74.4,-0.05],[74.7,-0.15],[75,0.1],[75.3,-0.2],[77.3,0.15],[77.6,0.25],[77.9,0.05],[78.2,0.1],[88.9,0.1],[89.1,0.1],[89.5,0.05],[89.8,0.1],[90.1,0.05],[90.4,-0.05],[90.7,0.1],[91,0.3],[91.3,0.1],[91.6,0.25],[91.9,0.25],[92.2,0.3],[92.5,0.45],[92.8,0.4],[93.1,0.5],[93.5,0.3],[93.9,0.45],[94.2,0.3],[94.5,0.45],[94.8,0.5],[95.2,0.4],[95.4,0.3],[97.5,-0.6],[97.7,-0.75],[98.1,-0.7],[98.4,-0.85],[100.2,-0.1],[100.5,0],[100.8,0.05],[101.1,0.15],[101.6,-0.1],[102.1,-0.2],[102.4,-0.05],[102.7,-0.15],[103,0.1],[103.3,-0.05],[103.6,0.1],[103.9,0.05],[104.2,0.25],[104.5,0.2],[104.8,0.05],[105.1,0.1],[105.4,-0.2],[105.7,-0.05],[106.1,-0.1],[112,-0.6],[112.3,-0.75],[113.1,0.2],[113.4,0.05],[113.8,0.1],[114.1,0.25],[114.4,-0.1],[114.7,0.2],[115,0.1],[119.2,-0.45],[119.6,-0.55],[119.9,-0.4],[120.4,-0.2],[120.8,-0.45],[121.1,-0.35],[121.4,-0.05],[122,-0.25],[122.3,-0.25],[122.6,0.1]];
const trOrange=[[8.56,1.48],[8.63,1.17],[8.6,0.94],[8.47,0.81],[9.39,0.52],[9.59,0.47],[5.22,0.49],[4.13,-0.57],[20.17,0.53],[20.17,0.47],[20.34,0.25],[20.6,0.16],[20.07,-0.04],[25.86,0.53],[25.79,0.45],[28.7,0.56],[29.1,0.22],[29.1,0.09],[29.1,0.04],[29.27,-0.01],[29.43,-0.21],[29.46,0.79],[29.93,0.54],[31.48,0.86],[31.41,0.66],[32.74,0.26],[33.57,0.45],[34.13,0.61],[34.13,0.49],[34.2,0.46],[35.68,0.46],[38.99,0.69],[44.51,-0.19],[46.76,0.98],[46,0.6],[46.2,0.58],[46.03,0.45],[46.79,0.5],[46,0.23],[46.6,-0.25],[47.35,0.47],[47.35,0.43],[47.82,0.42],[48.25,0.38],[48.25,0.56],[47.88,0.95],[47.72,0.77],[48.18,0.09],[47.98,-0.07],[48.31,-0.08],[56.28,0.68],[56.35,0.62],[56.38,0.56],[56.42,0.24],[59.89,0.52],[69.34,0.36],[69.6,0.3],[69.44,0.17],[69.31,0.01],[71.23,0.26],[74.97,0.84],[74.99,0.74],[75.6,0.83],[75.56,0.6],[75.1,0.5],[75.69,0.28],[74.77,-0.27],[76.26,-0.21],[82.27,0.63],[82.31,0.39],[89.46,0.36],[89.46,0.27],[99.74,0.24],[100.03,0.24],[101.42,0.55],[113.23,0.9],[113.2,0.59],[118.85,0.36],[120.5,-0.01],[120.47,-0.16],[110,0.91],[109.06,0.89],[109.69,1.14],[110.35,0.75],[110.85,0.73],[108.9,0.57],[110.12,0.62],[110.28,0.58],[109.59,0.51],[109.69,0.45],[110.48,0.47],[108.56,0.39],[108.9,0.38],[110.35,0.36],[109.69,0.32],[109.95,0.27],[110.15,0.22],[110.18,0.05],[109.59,0.02],[109.09,-0.01],[108.9,-0.08],[108.7,-0.2],[109,-0.27],[108.73,-0.4],[110.53,-0.29],[110.57,-0.71]];
const trRed=[[1.26,-0.04],[1.82,0.34],[1.72,0.3],[1.65,0.23],[1.93,-0.02],[2.38,0.18],[2.41,0.11],[2.71,0.05],[2.81,-0.06],[2.68,-0.08],[3.17,0.16],[3.04,-0.42],[9.19,1.54],[15.05,-0.02],[16.47,0.6],[16.5,0.56],[17.03,0.7],[17.66,0.83],[17.69,0.67],[16.96,0.55],[17.1,0.45],[17.76,0.49],[17.49,0.45],[16.43,0.35],[16.93,0.33],[17.2,0.24],[16.67,0.15],[17.2,0.14],[17.49,0.17],[17.36,0.05],[17.46,-0.02],[16.57,-0.23],[16.63,-0.33],[19.71,-0.2],[19.74,-0.33],[20.4,-0.52],[28.34,1.25],[28.57,1.19],[28.6,0.94],[29.73,0.36],[30.62,1.3],[38.43,0.7],[41.37,0.13],[42.82,1],[42.79,0.64],[43.12,0.52],[43.45,0.55],[43.16,0.43],[42.89,0.36],[43.16,0.36],[43.22,0.28],[44.42,0.44],[43.25,0.05],[43.65,0.01],[43.48,-0.3],[43.68,-0.29],[46.43,0.81],[46.36,0.79],[46.13,0.73],[46.26,0.18],[47.68,0.77],[69.98,0.64],[70.87,0.71],[71.16,0.52],[70.87,0.47],[70.73,0.34],[70.73,0.28],[69.84,0.33],[70.07,0.2],[70.17,0.13],[70.34,0.05],[70.4,-0.07],[70.67,-0.01],[71.33,0.18],[71.4,0.02],[75.94,0.7],[84.03,1.04],[84.1,0.96],[84.79,0.83],[83.9,0.73],[83.93,0.67],[84.43,0.74],[83.83,0.47],[83.76,0.43],[83.76,0.3],[84.72,0.32],[84.82,0.28],[84.59,0.08],[84.62,-0.08],[84.89,-0.14],[87.9,0.13],[95.14,0.09],[95.17,0.04],[95.97,0.67],[95.97,0.61],[95.79,0.91],[96.13,0.85],[96.3,0.98],[96.2,0.81],[96.53,0.81],[96.73,0.77],[96.85,0.7],[107.3,0.89],[107.55,1.02],[107.7,1.11],[107.87,1.17],[108.03,1.23],[108.24,1.3],[107.46,0.95],[107.73,0.95],[111.37,-0.61],[123,0.48],[123,0.1]];
const trNavy=[[8.37,2.29],[8.33,2.08],[8.4,2.01],[9.16,2.14],[9.06,1.92],[9.13,1.9],[9,1.72],[9.06,1.66],[28.5,1.96],[28.54,1.51],[29.6,1.34],[46.33,1.06],[96.62,1.18],[96.3,1.11],[96.46,1.1],[96.79,1.1],[96.4,0.95],[96.96,0.98],[96.96,0.89],[109.39,2.61],[109.43,2.09],[109.33,1.77],[109.85,1.57],[109.52,1.55],[109.46,1.49],[108.33,1.61],[108.33,1.52],[108.43,1.38],[108.43,1.33],[109.75,1.37],[109.2,1.16],[110,1.14],[109.88,1],[108.53,0.95]];

const NS='http://www.w3.org/2000/svg';
const svg=document.getElementById('chart');
const X0=61,X1=1301,DAY_MAX=123;
function xScale(d){return X0+d/DAY_MAX*(X1-X0);}
const panelSp={id:'sp',label:'log_Sp',top:10,bottom:190.4,zero:121,perUnit:33.8,ticks:spTicks,labelX:17,showDates:false,lavender:spLavender.concat(spLavenderDense),orange:spOrange,red:spRed,navy:spNavy};
const panelVa={id:'va',label:'log_Va',top:227.5,bottom:408.3,zero:330.7+4*54.5,perUnit:54.5,ticks:vaTicks,labelX:29,showDates:false,lavender:vaLavender.concat(vaLavenderDense),orange:vaOrange,red:vaRed,navy:vaNavy};
const panelTr={id:'tratio',label:'log_Tratio',top:444.3,bottom:625.3,zero:567.3,perUnit:44,ticks:trTicks,labelX:17,showDates:true,lavender:trLavender.concat(trLavenderDense),orange:trOrange,red:trRed,navy:trNavy};
function mk(tag,attrs,parent){const e=document.createElementNS(NS,tag);for(const k in attrs)e.setAttribute(k,attrs[k]);parent.appendChild(e);return e;}
function drawPanel(p){
  const yScale=v=>p.zero-v*p.perUnit;
  const h=p.bottom-p.top,w=X1-X0;
  const defs=mk('defs',{},svg);
  const cp=mk('clipPath',{id:'clip-'+p.id},defs);
  mk('rect',{x:X0,y:p.top,width:w,height:h},cp);
  const g=mk('g',{'clip-path':'url(#clip-'+p.id+')'},svg);
  
  
  grayRegions.forEach(r=>{
    const e=mk('rect',{x:xScale(r[0]),y:p.top,width:xScale(r[1])-xScale(r[0]),height:h,fill:'#808080','fill-opacity':0.2,stroke:'#808080','stroke-opacity':0.1,'stroke-width':1},g);
    
    
  });
  blueRegions.forEach(r=>{
    const e=mk('rect',{x:xScale(r[0]),y:p.top,width:xScale(r[1])-xScale(r[0]),height:h,fill:'#0000ff','fill-opacity':0.165,stroke:'#0000ff','stroke-opacity':0.06,'stroke-width':1},g);
    
    
  });
  eventDays.forEach(d=>{
    const e=mk('line',{x1:xScale(d),x2:xScale(d),y1:p.top,y2:p.bottom,stroke:'#0000ff','stroke-opacity':0.3,'stroke-width':2,'stroke-dasharray':'7.7,3.3'},g);
    
    
  });
  [['lavender','#e6beff',2.8],['orange','#f58231',2.6],['red','#e6194b',2.6],['navy','#000075',2.6]].forEach(s=>{
    p[s[0]].forEach(pt=>{
      const c=mk('circle',{cx:xScale(pt[0]),cy:yScale(pt[1]),r:s[2],fill:s[1]},g);
      
      
    });
  });
  const frame=mk('rect',{x:X0,y:p.top,width:w,height:h,fill:'none',stroke:'#000','stroke-width':1.1},svg);
  
  
  p.ticks.forEach(t=>{
    const y=yScale(t);
    const l=mk('line',{x1:X0-4.9,x2:X0,y1:y,y2:y,stroke:'#000','stroke-width':1.1},svg);
    
    
    const tx=mk('text',{x:X0-8.5,y:y+5,'text-anchor':'end'},svg);
    tx.textContent=String(t).replace('-','\u2212');
    
    
  });
  monthTicks.forEach(m=>{
    const x=xScale(m[0]);
    const l=mk('line',{x1:x,x2:x,y1:p.bottom,y2:p.bottom+4.9,stroke:'#000','stroke-width':1.1},svg);
    
    
    if(p.showDates){
      const tx=mk('text',{x:x,y:p.bottom+21,'text-anchor':'middle'},svg);
      tx.textContent=m[1];
      
      
    }
  });
  const cy=(p.top+p.bottom)/2;
  const yl=mk('text',{x:p.labelX,y:cy,'text-anchor':'middle','dominant-baseline':'middle',transform:'rotate(-90 '+p.labelX+' '+cy+')'},svg);
  yl.textContent=p.label;
  
  
}
[panelSp,panelVa,panelTr].forEach(drawPanel);
</script>
</body></html>
